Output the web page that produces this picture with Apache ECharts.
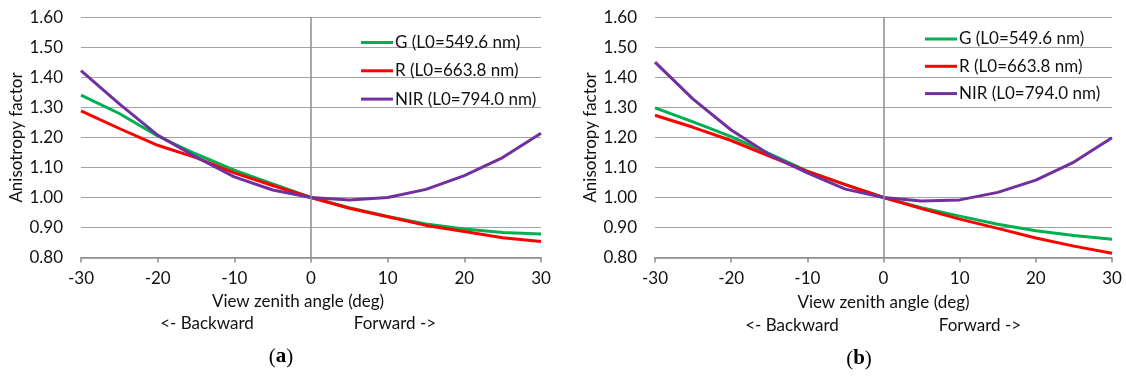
<!DOCTYPE html>
<html>
<head>
<meta charset="utf-8">
<script src="https://cdn.jsdelivr.net/npm/echarts@6/dist/echarts.min.js"></script>
<style>
  html, body { margin: 0; padding: 0; background: #ffffff; }
  #chart { width: 1126px; height: 376px; }
</style>
</head>
<body>
<div id="chart"></div>
<script>
// View zenith angles (deg), negative = backward, positive = forward
const angles = [-30, -25, -20, -15, -10, -5, 0, 5, 10, 15, 20, 25, 30];

// Panel (a) anisotropy factors
const gA = [1.341, 1.280, 1.205, 1.145, 1.091, 1.045, 1.000, 0.966, 0.937, 0.912, 0.895, 0.883, 0.878];
const rA = [1.289, 1.230, 1.174, 1.133, 1.082, 1.040, 1.000, 0.964, 0.936, 0.907, 0.887, 0.866, 0.853];
const nA = [1.423, 1.312, 1.208, 1.135, 1.069, 1.025, 1.000, 0.992, 1.000, 1.027, 1.073, 1.133, 1.214];

// Panel (b) anisotropy factors
const gB = [1.299, 1.252, 1.203, 1.146, 1.088, 1.043, 1.000, 0.966, 0.938, 0.911, 0.889, 0.873, 0.861];
const rB = [1.274, 1.234, 1.190, 1.138, 1.087, 1.043, 1.000, 0.963, 0.928, 0.897, 0.865, 0.838, 0.814];
const nB = [1.451, 1.328, 1.225, 1.143, 1.082, 1.028, 1.000, 0.988, 0.992, 1.017, 1.058, 1.118, 1.199];

const seriesNames = ['G (L0=549.6 nm)', 'R (L0=663.8 nm)', 'NIR (L0=794.0 nm)'];
const seriesColors = ['#00b050', '#ff0000', '#7030a0'];

const xTitle = 'View zenith angle (deg)';
const yTitle = 'Anisotropy factor';
const backLabel = '<- Backward';
const foreLabel = 'Forward ->';
const captions = ['a', 'b'];

const FONT = 'Lato';
const FS = 17;
const TEXT_COLOR = '#111111';
const GRID_COLOR = '#a3a3a3';
const AXIS_COLOR = '#8c8c8c';

const pairs = ys => angles.map((a, i) => [a, ys[i]]);

const grids = [
  { left: 81, top: 17.5, width: 460, height: 240 },
  { left: 655, top: 17.5, width: 457, height: 240 }
];

function xAxisFor(idx) {
  return {
    type: 'value', gridIndex: idx, min: -30, max: 30, interval: 10,
    axisLine: { show: true, onZero: false, lineStyle: { color: AXIS_COLOR, width: 1.5 } },
    axisTick: { show: true, length: 5, lineStyle: { color: AXIS_COLOR, width: 1.5 } },
    splitLine: { show: false },
    axisLabel: { color: TEXT_COLOR, fontFamily: FONT, fontSize: FS, margin: 13 }
  };
}

function yAxisFor(idx, gap) {
  return {
    type: 'value', gridIndex: idx, min: 0.8, max: 1.6, interval: 0.1,
    axisLine: { show: false }, axisTick: { show: false },
    splitLine: { show: true, lineStyle: { color: GRID_COLOR, width: 1 } },
    axisLabel: { color: TEXT_COLOR, fontFamily: FONT, fontSize: FS, margin: 18,
                 formatter: v => v.toFixed(2) },
    name: yTitle, nameLocation: 'middle', nameGap: gap, nameRotate: 90,
    nameTextStyle: { color: TEXT_COLOR, fontFamily: FONT, fontSize: FS }
  };
}

function panelSeries(idx, data) {
  const out = [{
    // vertical axis through zero
    type: 'line', xAxisIndex: idx, yAxisIndex: idx, data: [], z: 1, silent: true,
    markLine: {
      silent: true, symbol: 'none', label: { show: false },
      lineStyle: { color: AXIS_COLOR, width: 1.5, type: 'solid' },
      data: [{ xAxis: 0 }]
    }
  }];
  data.forEach((ys, k) => out.push({
    name: seriesNames[k], type: 'line', xAxisIndex: idx, yAxisIndex: idx,
    data: pairs(ys), symbol: 'none', smooth: false, z: 3,
    lineStyle: { color: seriesColors[k], width: 3 },
    itemStyle: { color: seriesColors[k] }
  }));
  return out;
}

function legendFor(left, top, gap) {
  return {
    orient: 'vertical', left: left, top: top, itemGap: gap, padding: 0,
    icon: 'rect', itemWidth: 32, itemHeight: 3,
    data: seriesNames, selectedMode: false,
    textStyle: { color: TEXT_COLOR, fontFamily: FONT, fontSize: FS, lineHeight: 17, padding: [0, 0, 0, -3] }
  };
}

function textAt(x, y, text) {
  return {
    type: 'text', x: x, y: y,
    style: { text: text, fill: TEXT_COLOR, font: FS + 'px ' + FONT, textAlign: 'center', textVerticalAlign: 'middle' }
  };
}

function captionAt(x, y, letter) {
  return {
    type: 'text', x: x, y: y,
    style: {
      text: '(' + '{b|' + letter + '}' + ')',
      fill: '#000', font: '21px "Liberation Serif"', textAlign: 'center', textVerticalAlign: 'middle',
      rich: { b: { fontFamily: 'Liberation Serif', fontSize: 21, fontWeight: 'bold', fill: '#000' } }
    }
  };
}

const chart = echarts.init(document.getElementById('chart'), null, { renderer: 'canvas' });
chart.setOption({
  animation: false,
  backgroundColor: '#ffffff',
  grid: grids,
  xAxis: [xAxisFor(0), xAxisFor(1)],
  yAxis: [yAxisFor(0, 54), yAxisFor(1, 50)],
  legend: [legendFor(361, 34, 11.3), legendFor(925, 30.5, 10.3)],
  series: [].concat(panelSeries(0, [gA, rA, nA]), panelSeries(1, [gB, rB, nB])),
  graphic: [
    textAt(298, 302, xTitle),
    textAt(207, 324, backLabel),
    textAt(395, 324, foreLabel),
    captionAt(281, 357, captions[0]),
    textAt(883.5, 303, xTitle),
    textAt(792, 325.5, backLabel),
    textAt(980, 325.5, foreLabel),
    captionAt(859, 359, captions[1])
  ]
});
</script>
</body>
</html>
